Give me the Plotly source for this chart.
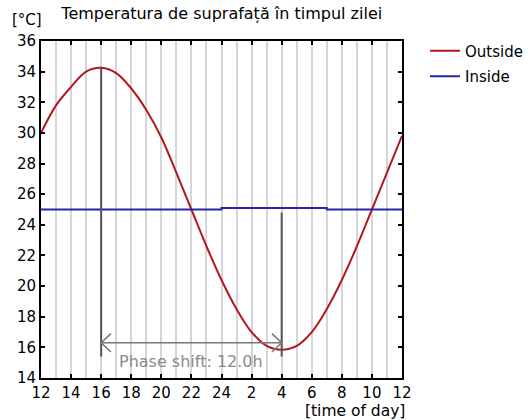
import plotly.graph_objects as go

# Hours elapsed since noon (0 = 12:00, 24 = next 12:00)
hours = list(range(25))
hour_labels = ["12", "14", "16", "18", "20", "22", "24", "2", "4", "6", "8", "10", "12"]

# Surface temperature, °C
outside = [30.0, 31.8, 33.0, 34.0, 34.25, 33.9, 32.9, 31.5, 29.7, 27.4, 25.0, 22.6, 20.4,
           18.5, 17.0, 16.1, 15.85, 16.1, 17.0, 18.5, 20.4, 22.6, 25.0, 27.4, 29.8]
inside = [25.0, 25.0, 25.0, 25.0, 25.0, 25.0, 25.0, 25.0, 25.0, 25.0, 25.0, 25.0, 25.1,
          25.1, 25.1, 25.1, 25.1, 25.1, 25.1, 25.0, 25.0, 25.0, 25.0, 25.0, 25.0]

# Phase-shift marker: outside peak time and inside peak time (hours since noon)
peak_out_t, peak_out_v = 4, 34.25
peak_in_t, peak_in_v = 16, 24.8
marker_bottom = 15.4
arrow_y = 16.3
phase_shift = peak_in_t - peak_out_t

FONT = "DejaVu Sans"
GREY = "#777777"

fig = go.Figure()
fig.add_trace(go.Scatter(x=hours, y=outside, mode="lines", name="Outside",
                         legendgroup="out",
                         line=dict(color="#b2191f", width=2, shape="spline")))
fig.add_trace(go.Scatter(x=hours, y=inside, mode="lines", name="Inside",
                         legendgroup="in",
                         line=dict(color="#2525a8", width=2, shape="hv")))

# Vertical markers at the two peaks
for t, top in [(peak_out_t, peak_out_v), (peak_in_t, peak_in_v)]:
    fig.add_shape(type="line", x0=t, x1=t, y0=marker_bottom, y1=top,
                  line=dict(color="#555555", width=2))

# Double-headed arrow with open chevron heads
fig.add_shape(type="line", x0=peak_out_t, x1=peak_in_t, y0=arrow_y, y1=arrow_y,
              line=dict(color=GREY, width=1.5))
head_dx, head_dy = 0.65, 0.6
fig.add_shape(type="path",
              path=f"M {peak_out_t + head_dx},{arrow_y + head_dy} L {peak_out_t},{arrow_y} "
                   f"L {peak_out_t + head_dx},{arrow_y - head_dy}",
              line=dict(color=GREY, width=1.5))
fig.add_shape(type="path",
              path=f"M {peak_in_t - head_dx},{arrow_y + head_dy} L {peak_in_t},{arrow_y} "
                   f"L {peak_in_t - head_dx},{arrow_y - head_dy}",
              line=dict(color=GREY, width=1.5))
fig.add_annotation(x=(peak_out_t + peak_in_t) / 2, y=15.05, xref="x", yref="y",
                   text=f"Phase shift: {phase_shift:.1f}h", showarrow=False,
                   font=dict(family=FONT, size=16, color="#8a8a8a"))

# Unit labels
fig.add_annotation(x=-0.04, y=1.062, xref="paper", yref="paper", text="[°C]",
                   xanchor="center", yanchor="middle",
                   showarrow=False, font=dict(family=FONT, size=15, color="black"))
fig.add_annotation(x=0.87, y=-0.098, xref="paper", yref="paper", text="[time of day]",
                   xanchor="center", yanchor="middle",
                   showarrow=False, font=dict(family=FONT, size=15.5, color="black"))

fig.update_layout(
    width=528, height=420,
    margin=dict(l=41, r=126, t=41, b=42),
    paper_bgcolor="white", plot_bgcolor="white",
    font=dict(family=FONT, size=15, color="black"),
    title=dict(text="Temperatura de suprafață în timpul zilei", x=0.42, xanchor="center",
               y=0.967, yanchor="middle", font=dict(family=FONT, size=16, color="black")),
    legend=dict(xref="container", yref="container", x=0.805, y=0.918,
                xanchor="left", yanchor="top", traceorder="grouped",
                font=dict(family=FONT, size=15), tracegroupgap=3, itemwidth=30,
                bgcolor="rgba(0,0,0,0)"),
    xaxis=dict(range=[0, 24], tickmode="array", tickvals=list(range(0, 25, 2)),
               ticktext=hour_labels, ticks="inside", ticklen=4, tickwidth=1.5,
               tickcolor="black", showline=True, linecolor="black", linewidth=2,
               mirror="ticks", showgrid=True, gridcolor="#d6d6d6", gridwidth=2,
               minor=dict(dtick=1, showgrid=True, gridcolor="#d6d6d6", gridwidth=2),
               zeroline=False, fixedrange=True),
    yaxis=dict(range=[14, 36], tickmode="array", tickvals=list(range(14, 37, 2)),
               ticks="inside", ticklen=4, tickwidth=1.5, tickcolor="black",
               showline=True, linecolor="black", linewidth=2, mirror="ticks",
               showgrid=False, zeroline=False, fixedrange=True),
)

fig.write_html("out.html")
